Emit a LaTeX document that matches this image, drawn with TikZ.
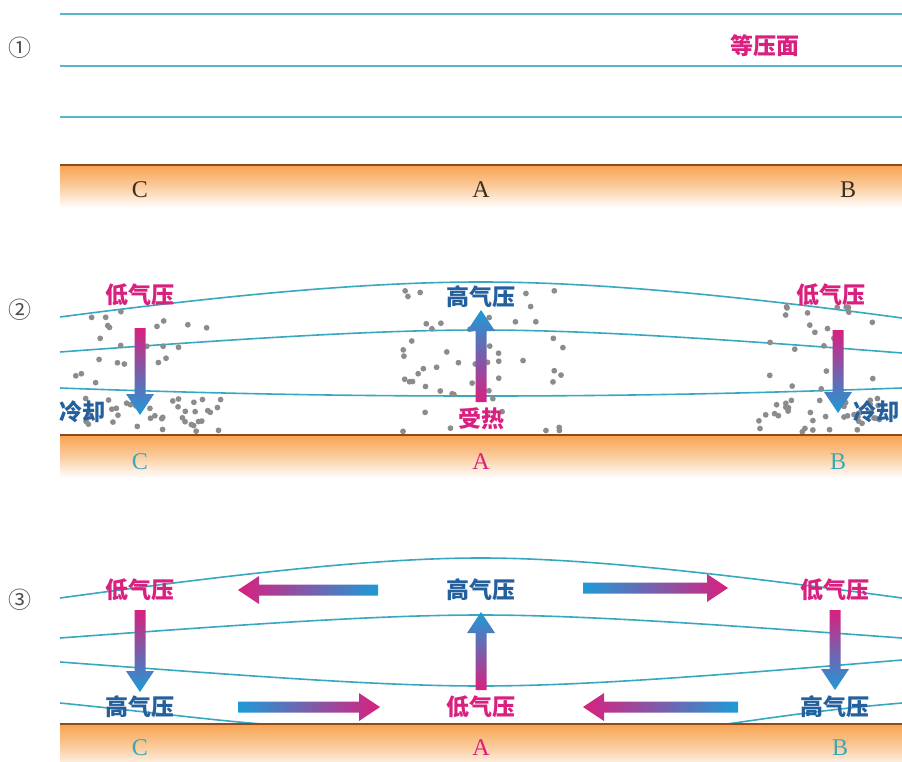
\documentclass[tikz,border=0pt]{standalone}
\usepackage{fontspec}
\setmainfont{Liberation Serif}
\newfontfamily\cjk{Noto Sans CJK SC}
\usetikzlibrary{calc}
\usetikzlibrary{positioning}

\definecolor{isobar}{HTML}{36A8C0}
\definecolor{isobarflat}{HTML}{58B6C9}
\definecolor{groundtop}{HTML}{F7A350}
\definecolor{groundedge}{HTML}{8E4B1E}
\definecolor{lowred}{HTML}{D9207F}
\definecolor{highblue}{HTML}{25609E}
\definecolor{airblue}{HTML}{1C9BD7}
\definecolor{dust}{HTML}{8C8C8C}
\definecolor{coolsite}{HTML}{3AA8B6}
\definecolor{plainsite}{HTML}{3B2E22}

\tikzset{
    flatline/.style={draw=isobarflat, line width=2.4pt},
    isoline/.style={draw=isobar, line width=1.6pt},
    ground/.style={top color=groundtop, bottom color=white, middle color=groundtop!55!white},
    groundline/.style={draw=groundedge, line width=1.6pt},
    cn/.style={font=\cjk\bfseries\fontsize{23}{25}\selectfont},
    lowp/.style={cn, text=lowred},
    highp/.style={cn, text=highblue},
    site/.style={font=\fontsize{24}{26}\selectfont},
    panelno/.style={font=\cjk\fontsize{23}{25}\selectfont, text=black!70},
    dot/.style={fill=dust},
    sink/.style={top color=lowred, bottom color=airblue},
    rise/.style={top color=airblue, bottom color=lowred},
    toright/.style={left color=airblue, right color=lowred},
    toleft/.style={left color=lowred, right color=airblue},
}

% fat shaded arrow from coordinate #2 to coordinate #3
\newcommand{\windarrow}[3]{%
    \path ($(#3)!21pt!(#2)$) coordinate (hb);
    \shade[#1] ($(#2)!5.5pt!90:(#3)$) -- ($(hb)!5.5pt!90:(#3)$) -- ($(hb)!14pt!90:(#3)$)
        -- (#3) -- ($(hb)!14pt!-90:(#3)$) -- ($(hb)!5.5pt!-90:(#3)$) -- ($(#2)!5.5pt!-90:(#3)$) -- cycle;
}

\begin{document}
\begin{tikzpicture}[x=1pt, y=-1pt]
\useasboundingbox (0,0) rectangle (902,762);

%% (1) uniform heating
\foreach \y in {14,66,117} \draw[flatline] (60,\y) -- (902,\y);
\node[panelno] (n1) at (20,48) {①};
\node[lowp] (surf) at (765,46) {等压面};
\fill[ground] (60,165) rectangle (902,208);
\draw[groundline] (60,165) -- (902,165);
\node[site, text=plainsite] (c1) at (140,190) {C};
\node[site, text=plainsite] (a1) at (481,190) {A};
\node[site, text=plainsite] (b1) at (848,190) {B};

%% (2) heating at A, cooling at C and B
\node[panelno] (n2) at (20,310) {②};
\draw[isoline] (60,317) .. controls (250,292) and (380,282) .. (481,282)
    .. controls (580,282) and (710,292) .. (902,318);
\draw[isoline] (60,352) .. controls (250,338) and (380,330) .. (481,330)
    .. controls (580,330) and (710,338) .. (902,353);
\draw[isoline] (60,388) .. controls (250,395) and (380,396) .. (481,396)
    .. controls (580,396) and (710,395) .. (902,388);

% dust: thin aloft, piled up near the cold ground
\pgfmathsetseed{11}
\foreach \i in {1,...,22} \fill[dot] ({75+140*rnd},{306+84*rnd}) circle (2.9pt);
\foreach \i in {1,...,38} \fill[dot] ({84+138*rnd},{398+34*rnd}) circle (2.9pt);
\foreach \i in {1,...,52} \fill[dot] ({402+172*rnd},{290+142*rnd}) circle (2.9pt);
\foreach \i in {1,...,22} \fill[dot] ({765+135*rnd},{306+84*rnd}) circle (2.9pt);
\foreach \i in {1,...,38} \fill[dot] ({750+140*rnd},{398+34*rnd}) circle (2.9pt);

\fill[ground] (60,435) rectangle (902,478);
\draw[groundline] (60,435) -- (902,435);

\coordinate (c2top) at (140,328);
\coordinate (c2bot) at (140,415);
\coordinate (a2bot) at (481,402);
\coordinate (a2top) at (481,310);
\coordinate (b2top) at (838,330);
\coordinate (b2bot) at (838,413);
\windarrow{sink}{c2top}{c2bot}
\windarrow{rise}{a2bot}{a2top}
\windarrow{sink}{b2top}{b2bot}

\node[lowp] (lowc2) at (140,295) {低气压};
\node[highp] (coolc) at (82,412) {冷却};
\node[highp] (higha2) at (481,297) {高气压};
\node[lowp] (heata) at (481,419) {受热};
\node[lowp] (lowb2) at (831,295) {低气压};
\node[highp] (coolb) at (876,412) {冷却};
\node[site, text=coolsite] (c2) at (140,462) {C};
\node[site, text=lowred] (a2) at (481,462) {A};
\node[site, text=coolsite] (b2) at (838,462) {B};

%% (3) the resulting circulation
\node[panelno] (n3) at (20,600) {③};
\draw[isoline] (60,598) .. controls (250,572) and (380,558) .. (481,558)
    .. controls (580,558) and (710,572) .. (902,598);
\draw[isoline] (60,638) .. controls (250,624) and (380,615) .. (481,615)
    .. controls (580,615) and (710,624) .. (902,638);
\draw[isoline] (60,662) .. controls (250,676) and (380,686) .. (481,686)
    .. controls (580,686) and (710,676) .. (902,660);
\draw[isoline] (60,703) .. controls (150,712) and (210,720) .. (262,724);
\draw[isoline] (902,703) .. controls (820,710) and (770,718) .. (727,724);

\fill[ground] (60,724) rectangle (902,770);
\draw[groundline] (60,724) -- (902,724);

\node[lowp] (lowc3) at (140,590) {低气压};
\node[highp] (highc3) at (140,707) {高气压};
\node[highp] (higha3) at (481,590) {高气压};
\node[lowp] (lowa3) at (481,707) {低气压};
\node[lowp] (lowb3) at (835,590) {低气压};
\node[highp] (highb3) at (835,707) {高气压};

\coordinate (c3top) at (140,610);
\coordinate (c3bot) at (140,692);
\coordinate (a3bot) at (481,690);
\coordinate (a3top) at (481,612);
\coordinate (b3top) at (835,610);
\coordinate (b3bot) at (835,690);
\coordinate (ul) at (238,590);
\coordinate (ur) at (378,590);
\coordinate (vl) at (583,588);
\coordinate (vr) at (728,588);
\coordinate (dl) at (238,707);
\coordinate (dr) at (380,707);
\coordinate (el) at (583,707);
\coordinate (er) at (738,707);
\windarrow{sink}{c3top}{c3bot}
\windarrow{rise}{a3bot}{a3top}
\windarrow{sink}{b3top}{b3bot}
\windarrow{toleft}{ur}{ul}
\windarrow{toright}{vl}{vr}
\windarrow{toright}{dl}{dr}
\windarrow{toleft}{er}{el}

\node[site, text=coolsite] (c3) at (140,748) {C};
\node[site, text=lowred] (a3) at (481,748) {A};
\node[site, text=coolsite] (b3) at (840,748) {B};
\end{tikzpicture}
\end{document}
